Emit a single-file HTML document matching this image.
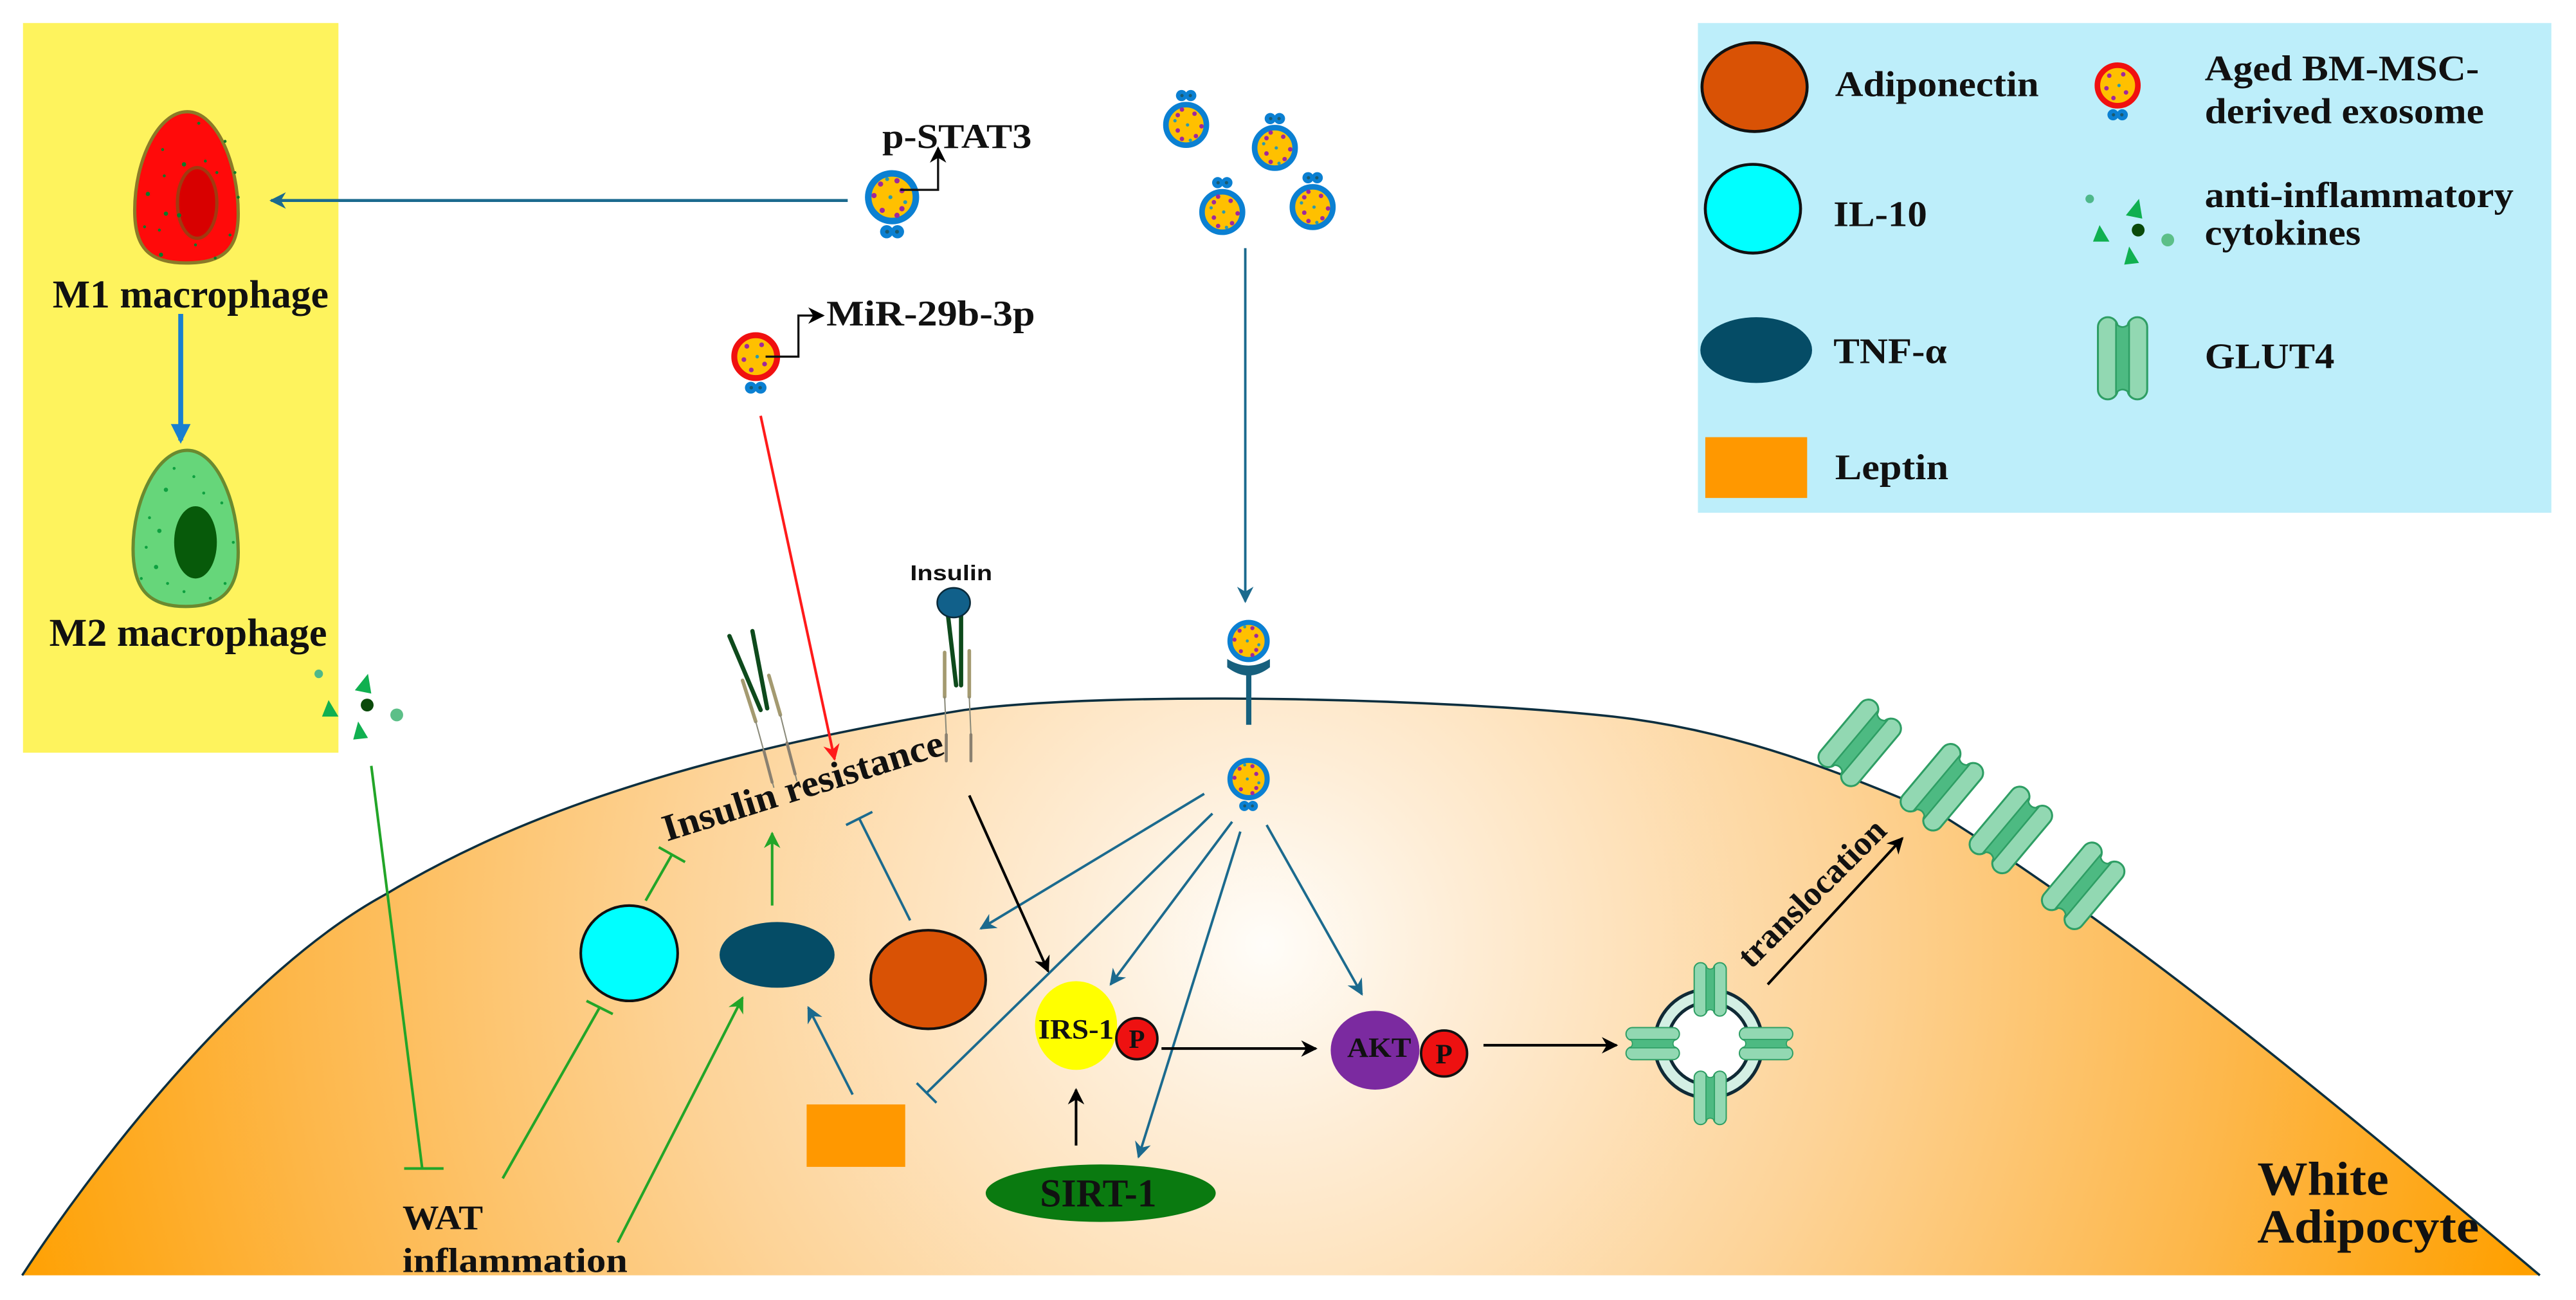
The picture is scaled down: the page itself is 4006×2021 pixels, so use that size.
<!DOCTYPE html>
<html><head><meta charset="utf-8"><style>
html,body{margin:0;padding:0;background:#fff;}
svg{display:block;}
text{font-family:"Liberation Serif",serif;font-weight:bold;fill:#111;}
</style></head><body>
<svg width="4006" height="2021" viewBox="0 0 1568 791" preserveAspectRatio="none" xmlns="http://www.w3.org/2000/svg">
<defs>
<radialGradient id="cellg" gradientUnits="userSpaceOnUse" cx="770" cy="575" r="790">
<stop offset="0" stop-color="#fffdf9"/>
<stop offset="0.15" stop-color="#feedd6"/>
<stop offset="0.45" stop-color="#fdd397"/>
<stop offset="0.75" stop-color="#fdb74a"/>
<stop offset="1" stop-color="#ffa000"/>
</radialGradient>
<marker id="ab" markerUnits="userSpaceOnUse" markerWidth="10" markerHeight="10" refX="9" refY="5" orient="auto"><path d="M0,0 L10,5 L0,10 L3,5 Z" fill="#1b6a8e"/></marker>
<marker id="ak" markerUnits="userSpaceOnUse" markerWidth="10" markerHeight="10" refX="9" refY="5" orient="auto"><path d="M0,0 L10,5 L0,10 L3,5 Z" fill="#000"/></marker>
<marker id="ag" markerUnits="userSpaceOnUse" markerWidth="10" markerHeight="10" refX="9" refY="5" orient="auto"><path d="M0,0 L10,5 L0,10 L3,5 Z" fill="#22a528"/></marker>
<marker id="ar" markerUnits="userSpaceOnUse" markerWidth="10" markerHeight="10" refX="9" refY="5" orient="auto"><path d="M0,0 L10,5 L0,10 L3,5 Z" fill="#ff1a1a"/></marker>
<marker id="abl" markerUnits="userSpaceOnUse" markerWidth="12" markerHeight="12" refX="10" refY="6" orient="auto"><path d="M0,0 L12,6 L0,12 Z" fill="#1a7fd0"/></marker>
<g id="exo">
<circle r="14.5" fill="#ffc000" stroke="#0b80d2" stroke-width="4"/>
<circle cx="-7" cy="-8" r="1.6" fill="#a0289b"/><circle cx="3" cy="-10" r="1.6" fill="#a0289b"/>
<circle cx="-3" cy="-11" r="1.2" fill="#2a9ab0"/><circle cx="6" cy="-4" r="1.6" fill="#a0289b"/>
<circle cx="-11" cy="-1" r="1.6" fill="#a0289b"/><circle cx="-1" cy="0" r="1.2" fill="#2a9ab0"/>
<circle cx="8" cy="3" r="1.2" fill="#2a9ab0"/><circle cx="6" cy="7" r="1.6" fill="#a0289b"/>
<circle cx="-6" cy="8" r="1.6" fill="#a0289b"/><circle cx="3" cy="11" r="1.6" fill="#a0289b"/>
</g>
<g id="knobs"><circle cx="-3.3" cy="21" r="4" fill="#0b80d2"/><circle cx="3.3" cy="21" r="4" fill="#0b80d2"/><circle cx="-3" cy="21" r="1.2" fill="#1a5a70"/><circle cx="3" cy="21" r="1.2" fill="#1a5a70"/></g>
<g id="exok"><use href="#exo"/><use href="#knobs"/></g>
<g id="exored">
<circle r="14.5" fill="#ffc000" stroke="#f01010" stroke-width="4"/>
<circle cx="-6" cy="-7" r="1.6" fill="#a0289b"/><circle cx="4" cy="-8" r="1.6" fill="#a0289b"/>
<circle cx="-8" cy="2" r="1.6" fill="#a0289b"/><circle cx="1" cy="0" r="1.2" fill="#2a9ab0"/>
<circle cx="6" cy="5" r="1.6" fill="#a0289b"/><circle cx="-3" cy="9" r="1.6" fill="#a0289b"/>
<use href="#knobs"/>
</g>
<g id="glut">
<rect x="-15" y="-25" width="12" height="50" rx="6" fill="#92d8b2" stroke="#2e9e64" stroke-width="1.2"/>
<rect x="3" y="-25" width="12" height="50" rx="6" fill="#92d8b2" stroke="#2e9e64" stroke-width="1.2"/>
<path d="M-4,-21 Q0,-17 4,-21 L4,21 Q0,17 -4,21 Z" fill="#4dba82" stroke="#2e9e64" stroke-width="1"/>
</g>
<g id="cyto">
<circle cx="0" cy="0" r="2.6" fill="#4fb88a"/>
<path d="M30,0 L32,12 L22,10 Z" fill="#10b050"/>
<path d="M6,16 L12,26 L2,26 Z" fill="#10b050"/>
<circle cx="29.5" cy="19" r="3.9" fill="#0a4a0a"/>
<circle cx="47.5" cy="25" r="3.9" fill="#5cbf88"/>
<path d="M24,29 L30,39 L21,40 Z" fill="#10b050"/>
</g>
</defs>

<rect x="14" y="14" width="192" height="444" fill="#fef35d"/>
<rect x="1033.5" y="14" width="519.5" height="298" fill="#bdeefa"/>

<!-- cell -->
<path d="M13.5,776 C60,705 150,590 235,544 C300,505 400,462 587,432 C680,420 880,425 982,436 C1060,445 1120,470 1182,496 C1300,570 1420,670 1546,776 Z" fill="url(#cellg)"/>
<path d="M13.5,776 C60,705 150,590 235,544 C300,505 400,462 587,432 C680,420 880,425 982,436 C1060,445 1120,470 1182,496 C1300,570 1420,670 1546,776" fill="none" stroke="#0d2f3f" stroke-width="1.4"/>

<!-- M1 macrophage -->
<path d="M114,68 C132,68 145,100 145,130 C145,152 136,160 113,160 C90,160 82,150 82,128 C82,98 96,68 114,68Z" fill="#ff0a0a" stroke="#8a7a28" stroke-width="2"/>
<ellipse cx="120" cy="123.5" rx="12" ry="21.5" fill="#d80000" stroke="#a03a10" stroke-width="2"/>
<g fill="#0b7a2a">
<circle cx="121" cy="75" r="0.9"/><circle cx="137" cy="86" r="0.9"/><circle cx="99" cy="91" r="0.9"/><circle cx="112" cy="100" r="1.3"/><circle cx="125" cy="98" r="0.9"/><circle cx="143" cy="105" r="0.9"/><circle cx="90" cy="118" r="1.3"/><circle cx="101" cy="130" r="1.3"/><circle cx="109" cy="131" r="1.3"/><circle cx="97" cy="140" r="0.9"/><circle cx="140" cy="143" r="0.9"/><circle cx="98" cy="155" r="1.3"/><circle cx="131" cy="157" r="0.9"/><circle cx="145" cy="120" r="0.9"/><circle cx="119" cy="149" r="0.9"/><circle cx="88" cy="138" r="0.9"/><circle cx="100" cy="107" r="0.9"/><circle cx="132" cy="105" r="0.9"/>
</g>
<text x="32" y="187" font-size="24" textLength="168" lengthAdjust="spacingAndGlyphs">M1 macrophage</text>
<line x1="110" y1="191" x2="110" y2="268" stroke="#1a7fd0" stroke-width="3" marker-end="url(#abl)"/>

<!-- M2 macrophage -->
<path d="M114,274 C132,274 145,306 145,336 C145,358 136,369 113,369 C90,369 81,358 81,334 C81,304 96,274 114,274Z" fill="#66d67a" stroke="#6a8a30" stroke-width="2"/>
<ellipse cx="119" cy="330" rx="13" ry="22" fill="#075a0a"/>
<g fill="#0ea040">
<circle cx="106" cy="285" r="0.9"/><circle cx="118" cy="290" r="0.9"/><circle cx="101" cy="298" r="1.3"/><circle cx="124" cy="300" r="0.9"/><circle cx="135" cy="306" r="0.9"/><circle cx="91" cy="315" r="0.9"/><circle cx="97" cy="323" r="1.3"/><circle cx="89" cy="333" r="0.9"/><circle cx="142" cy="330" r="0.9"/><circle cx="95" cy="345" r="1.3"/><circle cx="102" cy="355" r="0.9"/><circle cx="137" cy="355" r="0.9"/><circle cx="112" cy="360" r="0.9"/><circle cx="128" cy="364" r="0.9"/><circle cx="86" cy="352" r="0.9"/>
</g>
<text x="30" y="393" font-size="24" textLength="169" lengthAdjust="spacingAndGlyphs">M2 macrophage</text>

<use href="#cyto" x="194" y="410"/>

<!-- p-STAT3 exosome -->
<line x1="516" y1="122" x2="165" y2="122" stroke="#1b6a8e" stroke-width="1.8" marker-end="url(#ab)"/>
<use href="#exok" x="543" y="120"/>
<polyline points="548,115.5 571,115.5 571,90" fill="none" stroke="#111" stroke-width="1.3" marker-end="url(#ak)"/>
<text x="537" y="90" font-size="21" textLength="91" lengthAdjust="spacingAndGlyphs">p-STAT3</text>

<!-- MiR exosome -->
<use href="#exored" transform="translate(460,217) scale(0.9)"/>
<polyline points="466,217 486,217 486,192 501,192" fill="none" stroke="#111" stroke-width="1.3" marker-end="url(#ak)"/>
<text x="503" y="198" font-size="22" textLength="127" lengthAdjust="spacingAndGlyphs">MiR-29b-3p</text>
<line x1="463" y1="253" x2="508" y2="462" stroke="#ff1a1a" stroke-width="1.6" marker-end="url(#ar)"/>

<!-- exosome cluster -->
<use href="#exok" transform="translate(722,76) scale(0.85) rotate(180)"/>
<use href="#exok" transform="translate(776,90) scale(0.85) rotate(180)"/>
<use href="#exok" transform="translate(744,129) scale(0.85) rotate(180)"/>
<use href="#exok" transform="translate(799,126) scale(0.85) rotate(180)"/>
<line x1="758" y1="151" x2="758" y2="366" stroke="#1b6a8e" stroke-width="1.5" marker-end="url(#ab)"/>

<!-- receptor with exosome -->
<use href="#exo" transform="translate(760,390) scale(0.78)"/>
<path d="M747,401 Q760,409 773,401 L773,406 Q760,416 747,406 Z" fill="#17607e"/>
<rect x="758.5" y="406" width="3.2" height="35" fill="#17607e"/>
<use href="#exok" transform="translate(760,474) scale(0.78)"/>

<!-- insulin receptors -->
<g stroke-linecap="round">
<line x1="444" y1="387" x2="463" y2="432" stroke="#0e4a1c" stroke-width="2.6"/>
<line x1="458" y1="384" x2="467" y2="431" stroke="#0e4a1c" stroke-width="2.6"/>
<line x1="452" y1="414" x2="460" y2="439" stroke="#a49a70" stroke-width="2.2"/>
<line x1="468" y1="411" x2="475" y2="435" stroke="#a49a70" stroke-width="2.2"/>
<line x1="460" y1="439" x2="471" y2="479" stroke="#8a8a7a" stroke-width="0.8"/>
<line x1="475" y1="435" x2="485" y2="475" stroke="#8a8a7a" stroke-width="0.8"/>
<line x1="465" y1="457" x2="470" y2="476" stroke="#8a8070" stroke-width="1.8"/>
<line x1="479" y1="452" x2="484" y2="471" stroke="#8a8070" stroke-width="1.8"/>
<line x1="577" y1="374" x2="582" y2="417" stroke="#0e4a1c" stroke-width="2.6"/>
<line x1="585" y1="374" x2="585" y2="417" stroke="#0e4a1c" stroke-width="2.6"/>
<line x1="575" y1="397" x2="575" y2="424" stroke="#a49a70" stroke-width="2.2"/>
<line x1="590" y1="396" x2="590" y2="424" stroke="#a49a70" stroke-width="2.2"/>
<line x1="575" y1="424" x2="576" y2="447" stroke="#8a8a7a" stroke-width="0.8"/>
<line x1="590" y1="424" x2="591" y2="447" stroke="#8a8a7a" stroke-width="0.8"/>
<line x1="576" y1="447" x2="576" y2="463" stroke="#8a8070" stroke-width="1.8"/>
<line x1="591" y1="447" x2="591" y2="463" stroke="#8a8070" stroke-width="1.8"/>
</g>
<ellipse cx="580.5" cy="366.7" rx="10" ry="9" fill="#11608a" stroke="#0a2a3a" stroke-width="1"/>
<text x="554" y="353" font-size="13" textLength="50" lengthAdjust="spacingAndGlyphs" style="font-family:'Liberation Sans',sans-serif">Insulin</text>

<text transform="translate(406,512) rotate(-17.4)" font-size="23" textLength="178" lengthAdjust="spacingAndGlyphs">Insulin resistance</text>

<!-- secreted factors -->
<ellipse cx="383" cy="580" rx="29.5" ry="29" fill="#00ffff" stroke="#111" stroke-width="1.6"/>
<ellipse cx="473" cy="581" rx="35" ry="20" fill="#054c66"/>
<ellipse cx="565" cy="596" rx="35" ry="30" fill="#d95205" stroke="#111" stroke-width="1.6"/>
<rect x="491" y="672" width="60" height="38" fill="#ff9800"/>

<!-- green links -->
<g stroke="#22a528" stroke-width="1.6" fill="none">
<line x1="226" y1="466" x2="257" y2="711"/>
<line x1="246" y1="711" x2="270" y2="711"/>
<line x1="393" y1="548" x2="409" y2="520"/>
<line x1="401" y1="515.5" x2="417" y2="524.5"/>
<line x1="306" y1="717" x2="365" y2="613"/>
<line x1="357" y1="609" x2="373" y2="617"/>
<line x1="376" y1="756" x2="452" y2="607" marker-end="url(#ag)"/>
<line x1="470" y1="551" x2="470" y2="507" marker-end="url(#ag)"/>
</g>

<!-- blue links -->
<g stroke="#1b6a8e" stroke-width="1.5" fill="none">
<line x1="554" y1="560" x2="523" y2="498"/>
<line x1="515" y1="502" x2="531" y2="494"/>
<line x1="519" y1="666" x2="492" y2="613" marker-end="url(#ab)"/>
<line x1="733" y1="483" x2="597" y2="565" marker-end="url(#ab)"/>
<line x1="738" y1="495" x2="564" y2="665"/>
<line x1="558" y1="659" x2="570" y2="671"/>
<line x1="750" y1="500" x2="676" y2="599" marker-end="url(#ab)"/>
<line x1="755" y1="506" x2="693" y2="704" marker-end="url(#ab)"/>
<line x1="771" y1="502" x2="829" y2="605" marker-end="url(#ab)"/>
</g>

<!-- black links -->
<g stroke="#000" stroke-width="1.6" fill="none">
<line x1="590" y1="484" x2="638" y2="591" marker-end="url(#ak)"/>
<line x1="655" y1="697" x2="655" y2="663" marker-end="url(#ak)"/>
<line x1="707" y1="638" x2="801" y2="638" marker-end="url(#ak)"/>
<line x1="903" y1="636" x2="984" y2="636" marker-end="url(#ak)"/>
<line x1="1076" y1="599" x2="1158" y2="510" marker-end="url(#ak)"/>
</g>

<!-- IRS-1 -->
<ellipse cx="655" cy="624" rx="25" ry="27" fill="#ffff00"/>
<circle cx="692" cy="632" r="12.5" fill="#ee1111" stroke="#111" stroke-width="1.5"/>
<text x="632" y="632" font-size="17" textLength="46" lengthAdjust="spacingAndGlyphs">IRS-1</text>
<text x="692" y="637.5" font-size="16" text-anchor="middle">P</text>

<!-- SIRT-1 -->
<ellipse cx="670" cy="726" rx="70" ry="17.5" fill="#0a7a10"/>
<text x="633" y="734" font-size="24" textLength="71" lengthAdjust="spacingAndGlyphs">SIRT-1</text>

<!-- AKT -->
<ellipse cx="837" cy="639" rx="27" ry="24" fill="#7b2aa0"/>
<circle cx="879" cy="641" r="14" fill="#ee1111" stroke="#111" stroke-width="1.5"/>
<text x="820" y="643" font-size="17" textLength="39" lengthAdjust="spacingAndGlyphs">AKT</text>
<text x="879" y="647" font-size="17" text-anchor="middle">P</text>

<!-- GLUT4 vesicle -->
<circle cx="1040" cy="635" r="33" fill="#d3efe4" stroke="#102a36" stroke-width="2"/>
<circle cx="1040" cy="635" r="25" fill="#fff" stroke="#102a36" stroke-width="2"/>
<use href="#glut" transform="translate(1041,602) scale(0.65)"/>
<use href="#glut" transform="translate(1041,668) scale(0.65)"/>
<use href="#glut" transform="translate(1006,635) scale(0.65) rotate(90)"/>
<use href="#glut" transform="translate(1075,635) scale(0.65) rotate(90)"/>

<!-- GLUT4 on membrane -->
<use href="#glut" transform="translate(1132,452) rotate(40)"/>
<use href="#glut" transform="translate(1182,479) rotate(40)"/>
<use href="#glut" transform="translate(1224,505) rotate(40)"/>
<use href="#glut" transform="translate(1268,539) rotate(40)"/>

<text transform="translate(1066,590) rotate(-45)" font-size="21" textLength="118" lengthAdjust="spacingAndGlyphs">translocation</text>

<text x="1374" y="727" font-size="29" textLength="80" lengthAdjust="spacingAndGlyphs">White</text>
<text x="1374" y="756" font-size="29" textLength="135" lengthAdjust="spacingAndGlyphs">Adipocyte</text>

<text x="245" y="748" font-size="21" textLength="49" lengthAdjust="spacingAndGlyphs">WAT</text>
<text x="245" y="774" font-size="21" textLength="137" lengthAdjust="spacingAndGlyphs">inflammation</text>

<!-- Legend -->
<ellipse cx="1068" cy="53" rx="32" ry="27" fill="#d95205" stroke="#111" stroke-width="1.8"/>
<text x="1117" y="58.5" font-size="22" textLength="124" lengthAdjust="spacingAndGlyphs">Adiponectin</text>
<ellipse cx="1067" cy="127" rx="29" ry="27" fill="#00ffff" stroke="#111" stroke-width="1.8"/>
<text x="1116" y="137.5" font-size="22" textLength="57" lengthAdjust="spacingAndGlyphs">IL-10</text>
<ellipse cx="1069" cy="213" rx="34" ry="20" fill="#054c66"/>
<text x="1116" y="221" font-size="22" textLength="69" lengthAdjust="spacingAndGlyphs">TNF-α</text>
<rect x="1038" y="266" width="62" height="37" fill="#ff9800"/>
<text x="1117" y="291.5" font-size="22" textLength="69" lengthAdjust="spacingAndGlyphs">Leptin</text>
<use href="#exored" transform="translate(1289,52) scale(0.85)"/>
<text x="1342" y="49" font-size="22" textLength="167" lengthAdjust="spacingAndGlyphs">Aged BM-MSC-</text>
<text x="1342" y="75" font-size="22" textLength="170" lengthAdjust="spacingAndGlyphs">derived exosome</text>
<use href="#cyto" x="1272" y="121"/>
<text x="1342" y="126" font-size="22" textLength="188" lengthAdjust="spacingAndGlyphs">anti-inflammatory</text>
<text x="1342" y="149" font-size="22" textLength="95" lengthAdjust="spacingAndGlyphs">cytokines</text>
<use href="#glut" transform="translate(1292,218)"/>
<text x="1342" y="224" font-size="22" textLength="79" lengthAdjust="spacingAndGlyphs">GLUT4</text>
</svg>
</body></html>
